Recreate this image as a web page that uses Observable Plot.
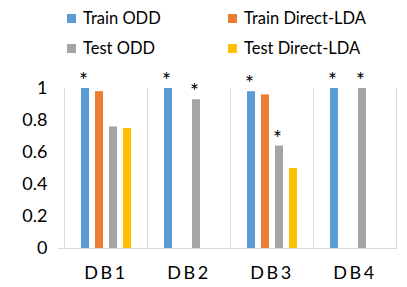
<!DOCTYPE html>
<html>
<head>
<meta charset="utf-8">
<script src="https://cdn.jsdelivr.net/npm/d3@7"></script>
<script src="https://cdn.jsdelivr.net/npm/@observablehq/plot@0.6"></script>
<style>
  html, body { margin: 0; padding: 0; background: #fff; }
  body { width: 407px; height: 287px; overflow: hidden; font-family: Lato, "Open Sans", sans-serif; }
  #legend { position: relative; height: 65px; width: 407px; font-size: 16.5px; color: #000; }
  .item { position: absolute; display: flex; align-items: center; height: 20px; white-space: nowrap; }
  .sw { width: 9px; height: 9px; margin-right: 7px; }
  #chart svg { display: block; }
  g[aria-label="fx-axis"] text, g[aria-label="fx-axis tick label"] text { letter-spacing: 2.5px; }
</style>
</head>
<body>
<div id="legend"></div>
<div id="chart"></div>
<script>
// ---- data ----
const categories = ["DB1", "DB2", "DB3", "DB4"];
const seriesNames = ["Train ODD", "Train Direct-LDA", "Test ODD", "Test Direct-LDA"];
const colors = ["#5B9BD5", "#ED7D31", "#A5A5A5", "#FFC000"];
const trainODD       = [1.00, 1.00, 0.98, 1.00];
const trainDirectLDA = [0.98, null, 0.96, null];
const testODD        = [0.76, 0.93, 0.64, 1.00];
const testDirectLDA  = [0.75, null, 0.50, null];
const yTicks = [0, 0.2, 0.4, 0.6, 0.8, 1];
// bars marked with an asterisk: [category, series]
const starred = [
  ["DB1", "Train ODD"],
  ["DB2", "Train ODD"], ["DB2", "Test ODD"],
  ["DB3", "Train ODD"], ["DB3", "Test ODD"],
  ["DB4", "Train ODD"], ["DB4", "Test ODD"]
];

// ---- table ----
const seriesValues = [trainODD, trainDirectLDA, testODD, testDirectLDA];
const table = [];
categories.forEach((c, i) => {
  seriesNames.forEach((s, j) => {
    const v = seriesValues[j][i];
    if (v != null) table.push({db: c, series: s, value: v});
  });
});
const stars = starred.map(([c, s]) => table.find(d => d.db === c && d.series === s));

// ---- legend ----
const legend = document.getElementById("legend");
const legendPos = [[67, 8], [228, 8], [67, 38], [228, 38]];
seriesNames.forEach((name, k) => {
  const it = document.createElement("div");
  it.className = "item";
  it.style.left = legendPos[k][0] + "px";
  it.style.top = legendPos[k][1] + "px";
  const sw = document.createElement("span");
  sw.className = "sw";
  sw.style.background = colors[k];
  const tx = document.createElement("span");
  tx.textContent = name;
  it.appendChild(sw); it.appendChild(tx);
  legend.appendChild(it);
});

// ---- chart ----
const gridColor = "#D9D9D9";
const chart = Plot.plot({
  width: 407,
  height: 222,
  marginTop: 23,
  marginBottom: 39,
  marginLeft: 63,
  marginRight: 11,
  style: {fontFamily: "Lato, 'Open Sans', sans-serif", fontSize: "18px", color: "#000", background: "transparent"},
  fx: {domain: categories, padding: 0, label: null, axis: "bottom", tickSize: 0, tickPadding: 18},
  x: {domain: seriesNames, axis: null, paddingInner: 0.44, paddingOuter: 1.13},
  y: {domain: [0, 1], ticks: yTicks, tickFormat: d => String(d), tickSize: 0, tickPadding: 17, label: null, grid: false},
  color: {domain: seriesNames, range: colors},
  marks: [
    Plot.frame({anchor: "left", stroke: gridColor}),
    Plot.frame({anchor: "right", stroke: gridColor}),
    Plot.barY(table, {fx: "db", x: "series", y: "value", fill: "series"}),
    Plot.ruleY([0], {stroke: gridColor, strokeWidth: 1.2, insetLeft: -6}),
    Plot.text(stars, {fx: "db", x: "series", y: "value", text: () => "*", dy: -7, dx: -2, fontSize: 21, fill: "#000", stroke: "none"})
  ]
});
document.getElementById("chart").appendChild(chart);
</script>
</body>
</html>
